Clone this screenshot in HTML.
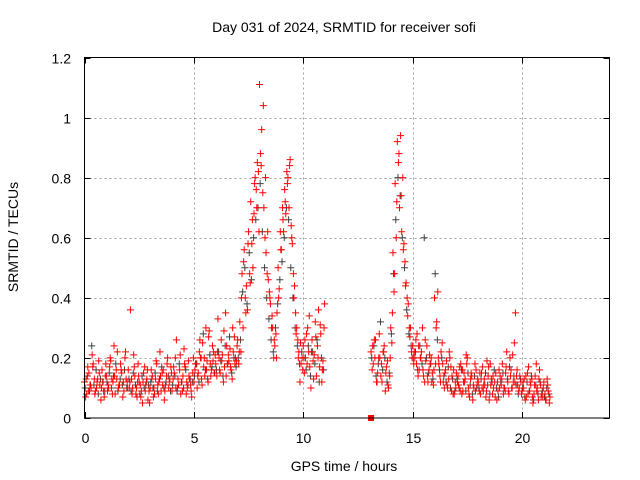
<!DOCTYPE html>
<html><head><meta charset="utf-8"><style>
body{margin:0;background:#fff}
svg{display:block;font-family:"Liberation Sans",sans-serif}
</style></head><body>
<svg id="c" width="640" height="480">
<text x="344" y="32" text-anchor="middle" font-size="14">Day 031 of 2024, SRMTID for receiver sofi</text>
<text x="344" y="471" text-anchor="middle" font-size="14">GPS time / hours</text>
<text transform="translate(18,237) rotate(-90)" text-anchor="middle" font-size="14">SRMTID / TECUs</text>
<g id="grid"></g><g id="ticks"></g><g id="marks"></g>
<rect x="84.5" y="57.5" width="525" height="360.5" fill="none" stroke="#000" stroke-width="1"/>
</svg>
<script>
const xTicks=[0,5,10,15,20];
const yTicks=[0,0.2,0.4,0.6,0.8,1,1.2];
const yTickLabels=["0","0.2","0.4","0.6","0.8","1","1.2"];
const seg1Start=0, seg2Start=13.1, step=0.1;
const seg1RedA=[.12,.08,.15,.10,.18,.09,.13,.11,.16,.07,.14,.10,.19,.12,.08,.22,.11,.15,.09,.13,.16,.36,.10,.14,.07,.12,.09,.15,.11,.06,.10,.14,.08,.18,.12,.09,.16,.11,.20,.13,.09,.15,.26,.11,.08,.14,.17,.10,.13,.07,.12,.18,.15,.20,.25,.14,.19,.29,.16,.22,.18,.33,.15,.21,.17,.24,.19,.16,.22,.20,.26,.32,.48,.56,.44,.62,.72,.50,.80,.85,1.11,.96,.70,.55,.46,.38,.30,.24,.35,.43,.56,.62,.68,.80,.86,.58,.44,.30,.22,.18,.24,.20,.30,.17,.26,.21,.14,.36,.28,.19];
const seg1RedB=[.07,.17,.11,.21,.13,.10,.19,.06,.12,.14,.09,.17,.13,.24,.16,.10,.18,.07,.20,.12,.10,.13,.21,.08,.18,.11,.05,.17,.13,.09,.16,.07,.13,.11,.22,.15,.06,.14,.10,.17,.13,.20,.10,.16,.12,.23,.08,.19,.11,.15,.16,.10,.22,.13,.17,.30,.12,.18,.24,.15,.14,.20,.26,.12,.35,.18,.23,.13,.27,.19,.18,.22,.30,.40,.36,.48,.58,.68,.76,.82,.88,.75,.60,.48,.42,.30,.20,.28,.50,.62,.70,.76,.82,.70,.64,.48,.35,.26,.12,.20,.15,.28,.22,.10,.19,.32,.24,.17,.12,.30];
const seg1RedC=[.13,.09,.11,.17,.08,.12,.15,.10,.09,.18,.11,.20,.08,.14,.13,.11,.16,.12,.22,.10,.12,.08,.17,.10,.14,.07,.12,.09,.16,.05,.13,.10,.19,.08,.14,.11,.09,.18,.12,.15,.17,.10,.13,.21,.09,.18,.12,.14,.09,.20,.18,.14,.26,.11,.20,.16,.27,.14,.19,.21,.22,.16,.19,.29,.14,.21,.17,.30,.18,.24,.22,.40,.52,.35,.58,.45,.66,.78,.70,.62,.84,1.04,.80,.62,.40,.34,.26,.20,.40,.56,.66,.72,.78,.84,.60,.40,.28,.20,.25,.16,.26,.18,.34,.22,.13,.27,.20,.31,.16,.38];
const seg1Black=[.10,.14,.09,.24,.11,.16,.08,.13,.12,.09,.12,.15,.10,.14,.18,.09,.13,.11,.16,.10,.13,.09,.15,.11,.12,.08,.14,.10,.12,.11,.12,.10,.15,.09,.13,.17,.10,.12,.14,.09,.11,.14,.09,.18,.12,.10,.16,.11,.13,.12,.14,.18,.12,.20,.28,.16,.13,.21,.17,.15,.16,.22,.19,.14,.24,.18,.27,.15,.20,.17,.20,.26,.42,.50,.38,.55,.46,.60,.66,.70,.78,.62,.50,.40,.33,.26,.22,.30,.38,.46,.52,.60,.70,.66,.50,.40,.30,.24,.18,.22,.20,.16,.24,.14,.22,.18,.26,.12,.20,.16];
const seg2RedA=[.22,.18,.26,.15,.20,.12,.24,.17,.10,.30,.55,.78,.92,.70,.62,.58,.45,.38,.30,.24,.20,.28,.16,.22,.14,.19,.12,.18,.15,.40,.32,.18,.22,.12,.16,.10,.20,.14,.08,.15,.11,.18,.09,.13,.20,.07,.14,.10,.16,.12,.08,.17,.11,.19,.06,.13,.10,.15,.09,.14,.18,.10,.22,.08,.16,.12,.35,.11,.14,.09,.13,.07,.17,.11,.05,.14,.10,.16,.08,.12,.06,.09];
const seg2RedB=[.16,.26,.12,.20,.14,.22,.09,.19,.14,.25,.42,.60,.85,.94,.80,.52,.40,.30,.22,.18,.26,.14,.20,.30,.12,.24,.16,.20,.11,.18,.42,.14,.25,.10,.19,.13,.17,.08,.12,.12,.17,.08,.15,.21,.10,.13,.06,.18,.11,.09,.15,.11,.07,.14,.18,.08,.12,.06,.16,.11,.08,.15,.12,.20,.10,.25,.14,.09,.12,.12,.06,.15,.09,.13,.08,.18,.06,.11,.07,.08,.13,.05];
const seg2RedC=[.24,.20,.12,.28,.18,.22,.15,.11,.20,.35,.48,.72,.88,.74,.56,.44,.34,.27,.20,.22,.18,.24,.20,.16,.26,.14,.21,.12,.16,.30,.20,.12,.18,.15,.11,.22,.09,.16,.10,.14,.09,.16,.12,.18,.08,.15,.11,.09,.13,.15,.10,.13,.09,.17,.11,.14,.07,.12,.10,.13,.10,.17,.09,.14,.21,.12,.16,.10,.08,.10,.14,.08,.12,.07,.11,.09,.13,.07,.10,.06,.11,.07];
const seg2Black=[.20,.24,.14,.18,.32,.16,.20,.12,.15,.28,.48,.66,.80,.74,.60,.50,.36,.28,.24,.20,.22,.16,.24,.18,.60,.20,.15,.18,.13,.48,.26,.16,.20,.14,.12,.17,.10,.13,.09,.13,.10,.16,.12,.09,.15,.11,.08,.14,.10,.10,.13,.09,.15,.11,.08,.12,.16,.10,.07,.12,.15,.09,.13,.17,.10,.14,.11,.08,.13,.10,.07,.12,.09,.14,.06,.11,.08,.12,.09,.07,.10,.08];
const markerPoint=[13.1,0];

const X0=84.5,X1=609.5,Y0=418,Y1=57.5;
const xs=t=>X0+(t/24)*(X1-X0);
const ys=v=>Y0-(v/1.2)*(Y0-Y1);
const NS="http://www.w3.org/2000/svg";
function mk(tag,parent){const e=document.createElementNS(NS,tag);parent.appendChild(e);return e;}
const grid=document.getElementById('grid'),ticks=document.getElementById('ticks'),marks=document.getElementById('marks');
xTicks.forEach(t=>{
  const x=Math.round(xs(t))+0.5;
  if(t>0){const g=mk('line',grid);
  
  
  g.setAttribute('x1',x);g.setAttribute('x2',x);g.setAttribute('y1',Y1);g.setAttribute('y2',Y0);g.setAttribute('stroke','#a0a0a0');g.setAttribute('stroke-dasharray','2,3');}
  [[Y0,Y0-6],[Y1,Y1+6]].forEach(p=>{const l=mk('line',ticks);
  
  
  l.setAttribute('x1',x);l.setAttribute('x2',x);l.setAttribute('y1',p[0]);l.setAttribute('y2',p[1]);l.setAttribute('stroke','#000');});
  const tx=mk('text',ticks);
  
  
  tx.setAttribute('x',x);tx.setAttribute('y',443);tx.setAttribute('text-anchor','middle');tx.setAttribute('font-size','14');tx.textContent=String(t);
});
yTicks.forEach((v,i)=>{
  const y=Math.round(ys(v))+0.5;
  if(v>0&&v<1.2){const g=mk('line',grid);
  
  
  g.setAttribute('x1',X0);g.setAttribute('x2',X1);g.setAttribute('y1',y);g.setAttribute('y2',y);g.setAttribute('stroke','#a0a0a0');g.setAttribute('stroke-dasharray','2,3');}
  [[X0,X0+6],[X1,X1-6]].forEach(p=>{const l=mk('line',ticks);
  
  
  l.setAttribute('x1',p[0]);l.setAttribute('x2',p[1]);l.setAttribute('y1',y);l.setAttribute('y2',y);l.setAttribute('stroke','#000');});
  const tx=mk('text',ticks);
  
  
  tx.setAttribute('x',71);tx.setAttribute('y',y+5);tx.setAttribute('text-anchor','end');tx.setAttribute('font-size','14');tx.textContent=yTickLabels[i];
});
function plus(t,v,color,name){
  const x=xs(t),y=ys(v);
  const p=mk('path',marks);
  
  
  p.setAttribute('d',`M${x-3.5} ${y}H${x+3.5}M${x} ${y-3.5}V${y+3.5}`);
  p.setAttribute('stroke',color);p.setAttribute('stroke-width','1');
}
function series(start,vals,color,name,off){vals.forEach((v,i)=>plus(start+i*step+off,v,color,name));}
series(seg1Start,seg1Black,'#404040','point-black',0.03);
series(seg2Start,seg2Black,'#404040','point-black',0.03);
series(seg1Start,seg1RedA,'#ff0000','point-red',0);
series(seg2Start,seg2RedA,'#ff0000','point-red',0);
series(seg1Start,seg1RedB,'#ff0000','point-red',0.05);
series(seg2Start,seg2RedB,'#ff0000','point-red',0.05);
series(seg1Start,seg1RedC,'#ff0000','point-red',0.075);
series(seg2Start,seg2RedC,'#ff0000','point-red',0.075);
const sq=mk('rect',marks);


sq.setAttribute('x',xs(markerPoint[0])-3);sq.setAttribute('y',ys(markerPoint[1])-3);sq.setAttribute('width',6);sq.setAttribute('height',6);sq.setAttribute('fill','#ff0000');
</script>
</body></html>
